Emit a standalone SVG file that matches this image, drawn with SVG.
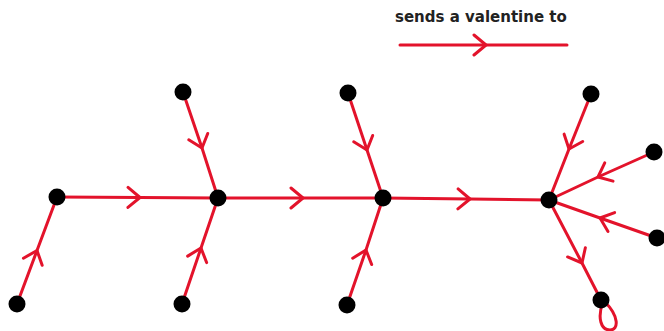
<svg xmlns="http://www.w3.org/2000/svg" width="664" height="331" viewBox="0 0 664 331">
<style>
.e{fill:none;stroke:#e3132b;stroke-width:3;stroke-linecap:round;marker-mid:url(#ch)}
.n{fill:#000}
.t{font-family:"DejaVu Sans",sans-serif;font-weight:bold;font-size:15px;fill:#222}
</style>
<defs>
<marker id="ch" viewBox="-14 -12 16 24" markerWidth="16" markerHeight="24" markerUnits="userSpaceOnUse" orient="auto" refX="0" refY="0">
<path d="M-12,-10 L0,0 L-12,10" fill="none" stroke="#e3132b" stroke-width="3" stroke-linecap="round" stroke-linejoin="round"/>
</marker>
</defs>
<text class="t" x="395" y="22">sends a valentine to</text>
<g id="connectors">
<path class="e" d="M400,45 L486,45 L567,45"/>
<path class="e" d="M17,304 L37,250.5 L57,197"/>
<path class="e" d="M57,197 L140,197.5 L218,198"/>
<path class="e" d="M183,92 L202,148 L218,198"/>
<path class="e" d="M182,304 L201,248 L218,198"/>
<path class="e" d="M218,198 L303,198 L383,198"/>
<path class="e" d="M348,93 L367,150 L383,198"/>
<path class="e" d="M347,305 L366,250 L383,198"/>
<path class="e" d="M383,198 L470,199 L549,200"/>
<path class="e" d="M591,94 L569,149 L549,200"/>
<path class="e" d="M654,152 L598,177 L549,200"/>
<path class="e" d="M657,238 L600,218 L549,200"/>
<path class="e" d="M549,200 L582,263 L601,300"/>
<path d="M603,302 C597,318 601,330 610,330 C619,330 619,316 605,302" fill="none" stroke="#e3132b" stroke-width="3"/>
</g>
<g id="A"><circle class="n" cx="17" cy="304" r="8.5"/></g>
<g id="B"><circle class="n" cx="57" cy="197" r="8.5"/></g>
<g id="C"><circle class="n" cx="218" cy="198" r="8.5"/></g>
<g id="D"><circle class="n" cx="183" cy="92" r="8.5"/></g>
<g id="E"><circle class="n" cx="182" cy="304" r="8.5"/></g>
<g id="F"><circle class="n" cx="383" cy="198" r="8.5"/></g>
<g id="G"><circle class="n" cx="348" cy="93" r="8.5"/></g>
<g id="H"><circle class="n" cx="347" cy="305" r="8.5"/></g>
<g id="I"><circle class="n" cx="549" cy="200" r="8.5"/></g>
<g id="J"><circle class="n" cx="591" cy="94" r="8.5"/></g>
<g id="K"><circle class="n" cx="654" cy="152" r="8.5"/></g>
<g id="L"><circle class="n" cx="657" cy="238" r="8.5"/></g>
<g id="M"><circle class="n" cx="601" cy="300" r="8.5"/></g>
</svg>
